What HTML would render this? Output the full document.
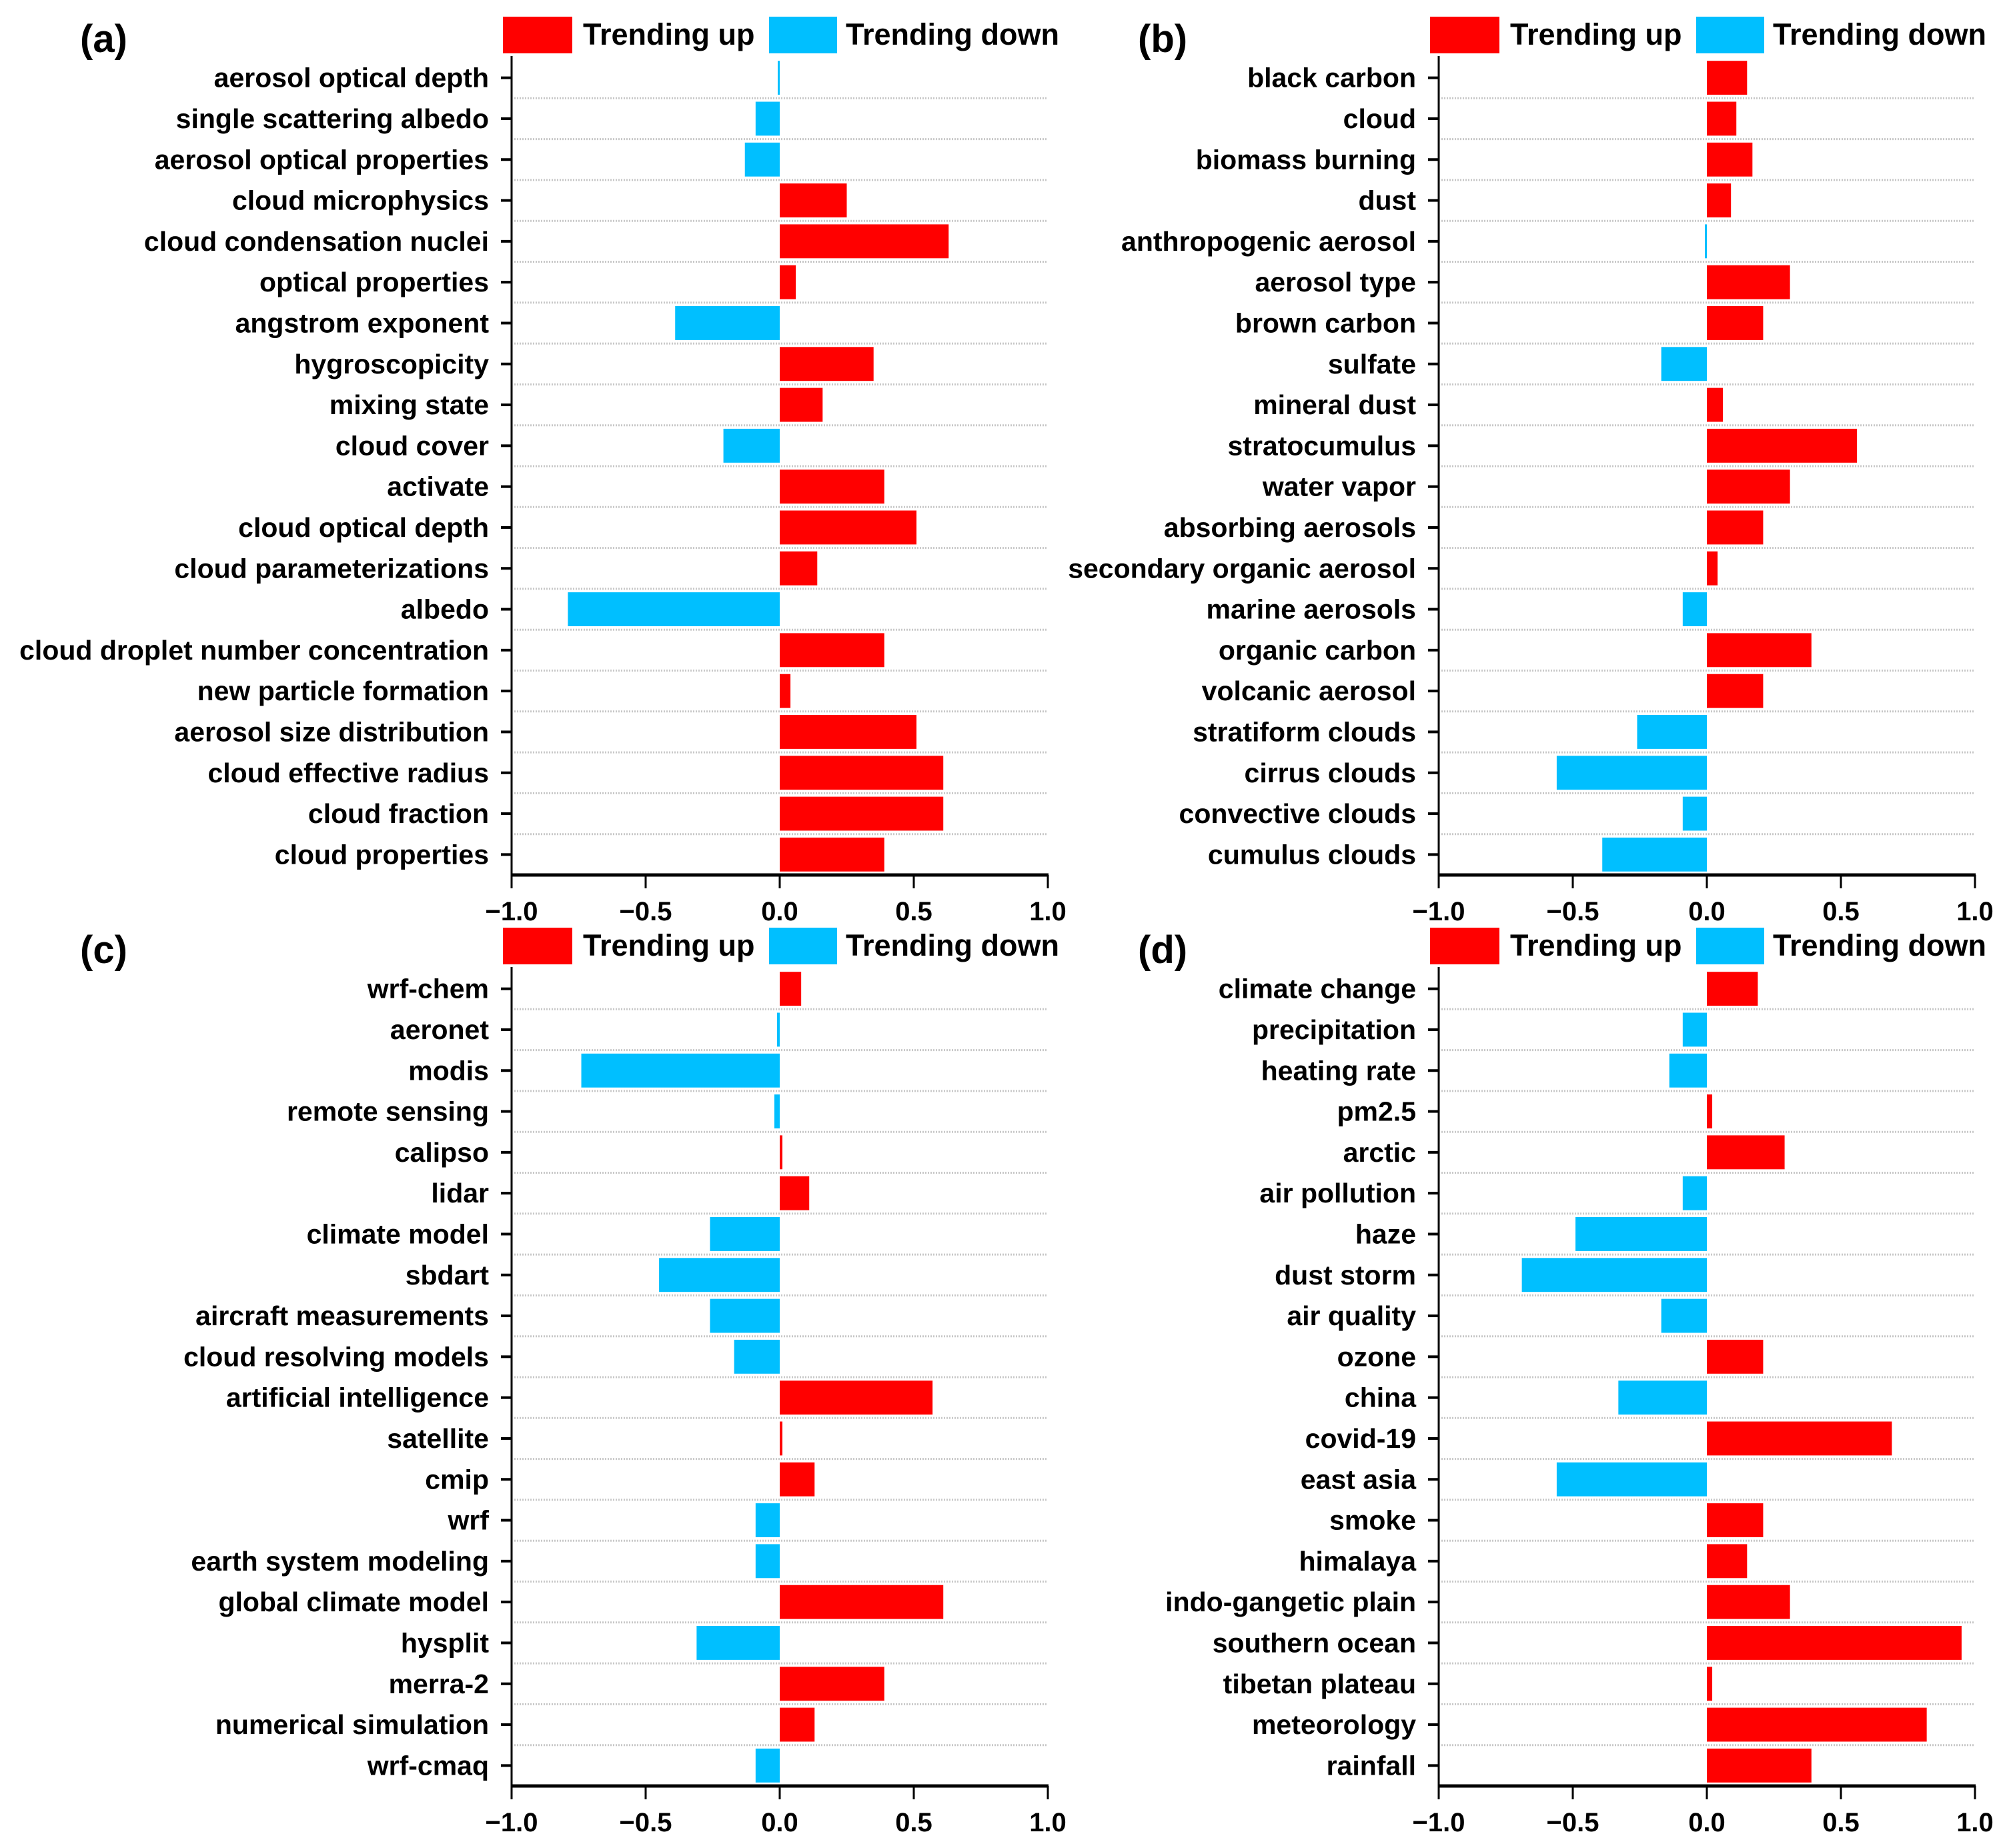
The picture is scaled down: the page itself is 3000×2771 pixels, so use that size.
<!DOCTYPE html>
<html><head><meta charset="utf-8"><style>
html,body{margin:0;padding:0;background:#fff;}
svg{display:block;font-family:"Liberation Sans",Arial,sans-serif;font-weight:bold;}
</style></head><body>
<svg id="chart" width="3000" height="2771" viewBox="0 0 3000 2771" xmlns="http://www.w3.org/2000/svg"></svg>
<script>
const catsA=["aerosol optical depth","single scattering albedo","aerosol optical properties","cloud microphysics","cloud condensation nuclei","optical properties","angstrom exponent","hygroscopicity","mixing state","cloud cover","activate","cloud optical depth","cloud parameterizations","albedo","cloud droplet number concentration","new particle formation","aerosol size distribution","cloud effective radius","cloud fraction","cloud properties"];
const valsA=[-0.005,-0.09,-0.13,0.25,0.63,0.06,-0.39,0.35,0.16,-0.21,0.39,0.51,0.14,-0.79,0.39,0.04,0.51,0.61,0.61,0.39];
const catsB=["black carbon","cloud","biomass burning","dust","anthropogenic aerosol","aerosol type","brown carbon","sulfate","mineral dust","stratocumulus","water vapor","absorbing aerosols","secondary organic aerosol","marine aerosols","organic carbon","volcanic aerosol","stratiform clouds","cirrus clouds","convective clouds","cumulus clouds"];
const valsB=[0.15,0.11,0.17,0.09,-0.005,0.31,0.21,-0.17,0.06,0.56,0.31,0.21,0.04,-0.09,0.39,0.21,-0.26,-0.56,-0.09,-0.39];
const catsC=["wrf-chem","aeronet","modis","remote sensing","calipso","lidar","climate model","sbdart","aircraft measurements","cloud resolving models","artificial intelligence","satellite","cmip","wrf","earth system modeling","global climate model","hysplit","merra-2","numerical simulation","wrf-cmaq"];
const valsC=[0.08,-0.01,-0.74,-0.02,0.01,0.11,-0.26,-0.45,-0.26,-0.17,0.57,0.01,0.13,-0.09,-0.09,0.61,-0.31,0.39,0.13,-0.09];
const catsD=["climate change","precipitation","heating rate","pm2.5","arctic","air pollution","haze","dust storm","air quality","ozone","china","covid-19","east asia","smoke","himalaya","indo-gangetic plain","southern ocean","tibetan plateau","meteorology","rainfall"];
const valsD=[0.19,-0.09,-0.14,0.02,0.29,-0.09,-0.49,-0.69,-0.17,0.21,-0.33,0.69,-0.56,0.21,0.15,0.31,0.95,0.02,0.82,0.39];
const ticks=[-1.0,-0.5,0.0,0.5,1.0];
const tickLabels=["\u22121.0","\u22120.5","0.0","0.5","1.0"];

const svg=document.getElementById('chart');
const NS="http://www.w3.org/2000/svg";
function mk(tag,attrs,parent){const e=document.createElementNS(NS,tag);for(const k in attrs)e.setAttribute(k,attrs[k]);parent.appendChild(e);return e;}

function panel(letter,cats,vals,dx,dy,labelX){
  const g=mk('g',{},svg);
  
  
  const L=767+dx,R=1571+dx,top=86+dy,bot=1312+dy;
  const x=v=>L+(v+1)/2*(R-L);
  const band=(bot-top)/cats.length;
  const yc=i=>top+band*(i+0.5);
  const pl=mk('text',{x:labelX,y:78+dy,'font-size':58},g);
  pl.textContent='('+letter+')';
  
  
  const lg=mk('g',{},g);
  
  
  const r1=mk('rect',{x:754+dx,y:25+dy,width:104,height:55,fill:'#ff0000'},lg);
  
  
  const t1=mk('text',{x:874+dx,y:67+dy,'font-size':45},lg);t1.textContent='Trending up';
  
  
  const r2=mk('rect',{x:1153+dx,y:25+dy,width:102,height:55,fill:'#00bfff'},lg);
  
  
  const t2=mk('text',{x:1268+dx,y:67+dy,'font-size':45},lg);t2.textContent='Trending down';
  
  
  for(let i=1;i<cats.length;i++){
    const gl=mk('line',{x1:L+4,x2:R,y1:top+band*i,y2:top+band*i,stroke:'#c8c8c8','stroke-width':3,'stroke-dasharray':'2,2'},g);
    
    
  }
  cats.forEach((c,i)=>{
    const v=vals[i];
    const x0=x(0),x1=x(v);
    let w=Math.abs(x1-x0);if(w<3)w=3;
    const bx=v>=0?x0:x0-w;
    const b=mk('rect',{x:bx,y:yc(i)-band*0.415,width:w,height:band*0.83,fill:v>=0?'#ff0000':'#00bfff'},g);
    
    
    const tk=mk('line',{x1:L-16,x2:L,y1:yc(i),y2:yc(i),stroke:'#000','stroke-width':4},g);
    
    
    const t=mk('text',{x:L-34,y:yc(i)+14,'font-size':41,'text-anchor':'end'},g);
    t.textContent=c;
    
    
  });
  const ya=mk('line',{x1:L,x2:L,y1:top-2,y2:bot,stroke:'#000','stroke-width':3},g);
  
  
  const xa=mk('line',{x1:L,x2:R+1,y1:bot,y2:bot,stroke:'#000','stroke-width':5},g);
  
  
  ticks.forEach((tv,j)=>{
    const tk=mk('line',{x1:x(tv),x2:x(tv),y1:bot,y2:bot+20,stroke:'#000','stroke-width':3},g);
    
    
    const t=mk('text',{x:x(tv),y:bot+68,'font-size':40,'text-anchor':'middle'},g);
    t.textContent=tickLabels[j];
    
    
  });
}
panel('a',catsA,valsA,0,0,120);
panel('b',catsB,valsB,1390,0,1706);
panel('c',catsC,valsC,0,1366,120);
panel('d',catsD,valsD,1390,1366,1706);
</script>
</body></html>
